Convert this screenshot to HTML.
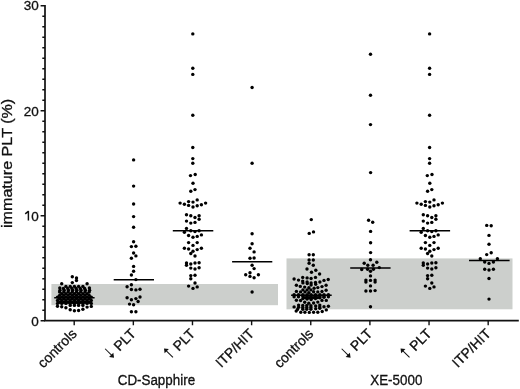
<!DOCTYPE html>
<html><head><meta charset="utf-8"><style>
html,body{margin:0;padding:0;background:#fff;}
svg{display:block;will-change:transform;}
text{font-family:"Liberation Sans",sans-serif;fill:#111;stroke:#111;stroke-width:0.3px;}
.t{font-size:13.5px;}
.xl{font-size:13.9px;}
.ti{font-size:14.8px;}
.g{font-size:13.4px;}
</style></head><body>
<svg width="520" height="389" viewBox="0 0 520 389">
<rect x="51.4" y="284.0" width="226.6" height="21.2" fill="#cccfcc"/>
<rect x="286.5" y="258.4" width="226.0" height="50.9" fill="#cccfcc"/>
<path d="M45.0 5.0 V320.7 H518.8" fill="none" stroke="#111" stroke-width="1.7"/>
<path d="M40.6 320.70H45.0 M42.3 310.20H45.0 M42.3 299.70H45.0 M42.3 289.20H45.0 M42.3 278.70H45.0 M42.3 268.20H45.0 M42.3 257.70H45.0 M42.3 247.20H45.0 M42.3 236.70H45.0 M42.3 226.20H45.0 M40.6 215.70H45.0 M42.3 205.20H45.0 M42.3 194.70H45.0 M42.3 184.20H45.0 M42.3 173.70H45.0 M42.3 163.20H45.0 M42.3 152.70H45.0 M42.3 142.20H45.0 M42.3 131.70H45.0 M42.3 121.20H45.0 M40.6 110.70H45.0 M42.3 100.20H45.0 M42.3 89.70H45.0 M42.3 79.20H45.0 M42.3 68.70H45.0 M42.3 58.20H45.0 M42.3 47.70H45.0 M42.3 37.20H45.0 M42.3 26.70H45.0 M42.3 16.20H45.0 M40.6 5.70H45.0 M74.20 320.7V325.3 M133.34 320.7V325.3 M192.48 320.7V325.3 M251.62 320.7V325.3 M310.76 320.7V325.3 M369.90 320.7V325.3 M429.04 320.7V325.3 M488.18 320.7V325.3" stroke="#111" stroke-width="1.4" fill="none"/>
<text x="38.8" y="325.75" text-anchor="end" class="t">0</text>
<text x="38.8" y="220.55" text-anchor="end" class="t">0</text>
<path d="M28.4 210.90V220.55M28.6 211.10L25.2 213.90" stroke="#111" stroke-width="1.45" fill="none"/>
<text x="38.8" y="115.55" text-anchor="end" class="t">20</text>
<text x="38.8" y="10.25" text-anchor="end" class="t">30</text>
<text transform="translate(12.0,163.4) rotate(-90) scale(1.09,1)" text-anchor="middle" class="ti">immature PLT (%)</text>
<g transform="translate(74.20,331.0) rotate(-45)"><text x="0.0" y="4.9" text-anchor="end" class="xl">controls</text></g>
<g transform="translate(133.34,331.0) rotate(-45)"><text x="0.0" y="4.9" text-anchor="end" class="xl">PLT</text><path d="M-32.5 -7.4V2" stroke="#111" stroke-width="1" fill="none"/><path d="M-35.5 1.2L-32.5 5.2L-29.5 1.2Z" fill="#111"/></g>
<g transform="translate(192.48,331.0) rotate(-45)"><text x="0.0" y="4.9" text-anchor="end" class="xl">PLT</text><path d="M-32.5 4.9V-4.5" stroke="#111" stroke-width="1" fill="none"/><path d="M-35.5 -3.9L-32.5 -7.8L-29.5 -3.9Z" fill="#111"/></g>
<g transform="translate(251.62,331.0) rotate(-45)"><text x="0.0" y="4.9" text-anchor="end" class="xl">ITP/HIT</text></g>
<g transform="translate(310.76,331.0) rotate(-45)"><text x="0.0" y="4.9" text-anchor="end" class="xl">controls</text></g>
<g transform="translate(369.90,331.0) rotate(-45)"><text x="0.0" y="4.9" text-anchor="end" class="xl">PLT</text><path d="M-32.5 -7.4V2" stroke="#111" stroke-width="1" fill="none"/><path d="M-35.5 1.2L-32.5 5.2L-29.5 1.2Z" fill="#111"/></g>
<g transform="translate(429.04,331.0) rotate(-45)"><text x="0.0" y="4.9" text-anchor="end" class="xl">PLT</text><path d="M-32.5 4.9V-4.5" stroke="#111" stroke-width="1" fill="none"/><path d="M-35.5 -3.9L-32.5 -7.8L-29.5 -3.9Z" fill="#111"/></g>
<g transform="translate(488.18,331.0) rotate(-45)"><text x="0.0" y="4.9" text-anchor="end" class="xl">ITP/HIT</text></g>
<text transform="translate(156.4,385.3) scale(1,1.065)" text-anchor="middle" class="g">CD-Sapphire</text>
<text transform="translate(396.3,385.3) scale(1,1.065)" text-anchor="middle" class="g">XE-5000</text>
<path d="M54.20 297.70H94.60 M113.70 279.80H154.00 M172.80 230.70H213.30 M232.10 261.70H272.30 M291.10 295.20H331.70 M350.20 268.00H390.60 M409.60 230.70H450.10 M469.00 260.50H509.60" stroke="#000" stroke-width="1.6" fill="none"/>
<g fill="#000"><circle cx="72.3" cy="276.7" r="1.7"/><circle cx="76.5" cy="277.9" r="1.7"/><circle cx="76.5" cy="280.5" r="1.7"/><circle cx="72.3" cy="282.6" r="1.7"/><circle cx="61.7" cy="283.7" r="1.7"/><circle cx="87.1" cy="283.7" r="1.7"/><circle cx="65.9" cy="286.4" r="1.7"/><circle cx="70.2" cy="286.4" r="1.7"/><circle cx="74.4" cy="286.4" r="1.7"/><circle cx="78.6" cy="286.4" r="1.7"/><circle cx="82.9" cy="286.4" r="1.7"/><circle cx="59.8" cy="287.9" r="1.7"/><circle cx="89.4" cy="287.9" r="1.7"/><circle cx="63.4" cy="288.5" r="1.7"/><circle cx="67.7" cy="288.5" r="1.7"/><circle cx="71.9" cy="288.5" r="1.7"/><circle cx="76.1" cy="288.5" r="1.7"/><circle cx="80.3" cy="288.5" r="1.7"/><circle cx="84.6" cy="288.5" r="1.7"/><circle cx="60.0" cy="290.3" r="1.7"/><circle cx="64.2" cy="290.3" r="1.7"/><circle cx="68.5" cy="290.3" r="1.7"/><circle cx="72.7" cy="290.3" r="1.7"/><circle cx="76.9" cy="290.3" r="1.7"/><circle cx="81.1" cy="290.3" r="1.7"/><circle cx="85.4" cy="290.3" r="1.7"/><circle cx="89.6" cy="290.3" r="1.7"/><circle cx="59.6" cy="292.0" r="1.7"/><circle cx="63.8" cy="292.0" r="1.7"/><circle cx="68.1" cy="292.0" r="1.7"/><circle cx="72.3" cy="292.0" r="1.7"/><circle cx="76.5" cy="292.0" r="1.7"/><circle cx="80.7" cy="292.0" r="1.7"/><circle cx="85.0" cy="292.0" r="1.7"/><circle cx="89.2" cy="292.0" r="1.7"/><circle cx="61.7" cy="293.7" r="1.7"/><circle cx="65.9" cy="293.7" r="1.7"/><circle cx="70.2" cy="293.7" r="1.7"/><circle cx="74.4" cy="293.7" r="1.7"/><circle cx="78.6" cy="293.7" r="1.7"/><circle cx="82.9" cy="293.7" r="1.7"/><circle cx="87.1" cy="293.7" r="1.7"/><circle cx="59.6" cy="295.4" r="1.7"/><circle cx="63.8" cy="295.4" r="1.7"/><circle cx="68.1" cy="295.4" r="1.7"/><circle cx="72.3" cy="295.4" r="1.7"/><circle cx="76.5" cy="295.4" r="1.7"/><circle cx="80.7" cy="295.4" r="1.7"/><circle cx="85.0" cy="295.4" r="1.7"/><circle cx="89.2" cy="295.4" r="1.7"/><circle cx="57.5" cy="297.1" r="1.7"/><circle cx="61.7" cy="297.1" r="1.7"/><circle cx="65.9" cy="297.1" r="1.7"/><circle cx="70.2" cy="297.1" r="1.7"/><circle cx="74.4" cy="297.1" r="1.7"/><circle cx="78.6" cy="297.1" r="1.7"/><circle cx="82.9" cy="297.1" r="1.7"/><circle cx="87.1" cy="297.1" r="1.7"/><circle cx="91.3" cy="297.1" r="1.7"/><circle cx="59.6" cy="298.8" r="1.7"/><circle cx="63.8" cy="298.8" r="1.7"/><circle cx="68.1" cy="298.8" r="1.7"/><circle cx="72.3" cy="298.8" r="1.7"/><circle cx="76.5" cy="298.8" r="1.7"/><circle cx="80.7" cy="298.8" r="1.7"/><circle cx="85.0" cy="298.8" r="1.7"/><circle cx="89.2" cy="298.8" r="1.7"/><circle cx="57.5" cy="300.5" r="1.7"/><circle cx="61.7" cy="300.5" r="1.7"/><circle cx="65.9" cy="300.5" r="1.7"/><circle cx="70.2" cy="300.5" r="1.7"/><circle cx="74.4" cy="300.5" r="1.7"/><circle cx="78.6" cy="300.5" r="1.7"/><circle cx="82.9" cy="300.5" r="1.7"/><circle cx="87.1" cy="300.5" r="1.7"/><circle cx="91.3" cy="300.5" r="1.7"/><circle cx="59.6" cy="302.2" r="1.7"/><circle cx="63.8" cy="302.2" r="1.7"/><circle cx="68.1" cy="302.2" r="1.7"/><circle cx="72.3" cy="302.2" r="1.7"/><circle cx="76.5" cy="302.2" r="1.7"/><circle cx="80.7" cy="302.2" r="1.7"/><circle cx="85.0" cy="302.2" r="1.7"/><circle cx="89.2" cy="302.2" r="1.7"/><circle cx="57.5" cy="303.4" r="1.7"/><circle cx="61.7" cy="303.4" r="1.7"/><circle cx="65.9" cy="303.4" r="1.7"/><circle cx="70.2" cy="303.4" r="1.7"/><circle cx="74.4" cy="303.4" r="1.7"/><circle cx="78.6" cy="303.4" r="1.7"/><circle cx="82.9" cy="303.4" r="1.7"/><circle cx="87.1" cy="303.4" r="1.7"/><circle cx="91.3" cy="303.4" r="1.7"/><circle cx="57.5" cy="306.3" r="1.7"/><circle cx="61.7" cy="306.8" r="1.7"/><circle cx="65.9" cy="307.8" r="1.7"/><circle cx="70.2" cy="305.4" r="1.7"/><circle cx="70.2" cy="309.8" r="1.7"/><circle cx="74.4" cy="305.4" r="1.7"/><circle cx="74.4" cy="310.7" r="1.7"/><circle cx="78.6" cy="305.4" r="1.7"/><circle cx="78.6" cy="310.5" r="1.7"/><circle cx="82.9" cy="305.4" r="1.7"/><circle cx="82.9" cy="309.3" r="1.7"/><circle cx="87.1" cy="307.1" r="1.7"/><circle cx="91.3" cy="306.4" r="1.7"/><circle cx="133.6" cy="159.9" r="1.7"/><circle cx="133.6" cy="186.1" r="1.7"/><circle cx="133.6" cy="204.0" r="1.7"/><circle cx="133.6" cy="216.6" r="1.7"/><circle cx="133.6" cy="227.3" r="1.7"/><circle cx="133.6" cy="241.7" r="1.7"/><circle cx="131.4" cy="246.6" r="1.7"/><circle cx="135.9" cy="246.2" r="1.7"/><circle cx="133.6" cy="253.0" r="1.7"/><circle cx="135.9" cy="255.9" r="1.7"/><circle cx="131.4" cy="258.2" r="1.7"/><circle cx="133.6" cy="266.4" r="1.7"/><circle cx="133.6" cy="271.2" r="1.7"/><circle cx="131.4" cy="275.0" r="1.7"/><circle cx="135.9" cy="279.6" r="1.7"/><circle cx="131.4" cy="284.8" r="1.7"/><circle cx="127.1" cy="286.7" r="1.7"/><circle cx="131.4" cy="289.5" r="1.7"/><circle cx="135.9" cy="289.9" r="1.7"/><circle cx="140.0" cy="289.3" r="1.7"/><circle cx="127.1" cy="297.7" r="1.7"/><circle cx="131.4" cy="299.8" r="1.7"/><circle cx="135.9" cy="298.6" r="1.7"/><circle cx="140.0" cy="297.0" r="1.7"/><circle cx="138.1" cy="301.5" r="1.7"/><circle cx="129.5" cy="304.1" r="1.7"/><circle cx="133.6" cy="304.7" r="1.7"/><circle cx="131.4" cy="311.8" r="1.7"/><circle cx="135.9" cy="311.8" r="1.7"/><circle cx="192.8" cy="33.9" r="1.7"/><circle cx="192.8" cy="68.2" r="1.7"/><circle cx="192.8" cy="74.4" r="1.7"/><circle cx="192.8" cy="115.2" r="1.7"/><circle cx="192.8" cy="147.5" r="1.7"/><circle cx="192.8" cy="158.6" r="1.7"/><circle cx="192.8" cy="163.2" r="1.7"/><circle cx="190.5" cy="175.6" r="1.7"/><circle cx="195.2" cy="174.5" r="1.7"/><circle cx="193.0" cy="183.2" r="1.7"/><circle cx="190.8" cy="191.3" r="1.7"/><circle cx="195.0" cy="189.6" r="1.7"/><circle cx="197.2" cy="199.9" r="1.7"/><circle cx="188.6" cy="201.6" r="1.7"/><circle cx="193.0" cy="202.1" r="1.7"/><circle cx="180.1" cy="203.1" r="1.7"/><circle cx="184.4" cy="204.2" r="1.7"/><circle cx="205.6" cy="203.1" r="1.7"/><circle cx="201.4" cy="204.7" r="1.7"/><circle cx="188.6" cy="205.4" r="1.7"/><circle cx="197.2" cy="205.7" r="1.7"/><circle cx="193.0" cy="207.0" r="1.7"/><circle cx="186.5" cy="214.7" r="1.7"/><circle cx="190.8" cy="215.7" r="1.7"/><circle cx="199.1" cy="215.7" r="1.7"/><circle cx="195.0" cy="217.5" r="1.7"/><circle cx="199.1" cy="219.2" r="1.7"/><circle cx="186.5" cy="221.1" r="1.7"/><circle cx="190.8" cy="223.1" r="1.7"/><circle cx="195.0" cy="222.4" r="1.7"/><circle cx="186.5" cy="228.4" r="1.7"/><circle cx="184.4" cy="232.3" r="1.7"/><circle cx="190.8" cy="230.7" r="1.7"/><circle cx="195.0" cy="231.6" r="1.7"/><circle cx="199.1" cy="230.7" r="1.7"/><circle cx="188.6" cy="235.5" r="1.7"/><circle cx="193.0" cy="237.2" r="1.7"/><circle cx="197.2" cy="236.4" r="1.7"/><circle cx="201.4" cy="234.9" r="1.7"/><circle cx="188.6" cy="242.6" r="1.7"/><circle cx="197.2" cy="242.6" r="1.7"/><circle cx="193.0" cy="245.4" r="1.7"/><circle cx="184.4" cy="248.3" r="1.7"/><circle cx="188.6" cy="249.0" r="1.7"/><circle cx="197.2" cy="249.6" r="1.7"/><circle cx="201.4" cy="248.3" r="1.7"/><circle cx="193.0" cy="251.3" r="1.7"/><circle cx="190.8" cy="253.5" r="1.7"/><circle cx="195.0" cy="256.0" r="1.7"/><circle cx="186.5" cy="262.9" r="1.7"/><circle cx="186.5" cy="265.3" r="1.7"/><circle cx="190.8" cy="264.0" r="1.7"/><circle cx="195.0" cy="263.0" r="1.7"/><circle cx="199.1" cy="262.8" r="1.7"/><circle cx="190.8" cy="268.1" r="1.7"/><circle cx="195.0" cy="269.0" r="1.7"/><circle cx="199.1" cy="267.8" r="1.7"/><circle cx="190.8" cy="275.6" r="1.7"/><circle cx="190.8" cy="278.8" r="1.7"/><circle cx="195.0" cy="275.3" r="1.7"/><circle cx="195.0" cy="283.0" r="1.7"/><circle cx="188.6" cy="286.1" r="1.7"/><circle cx="193.0" cy="288.4" r="1.7"/><circle cx="197.2" cy="286.9" r="1.7"/><circle cx="252.1" cy="87.5" r="1.7"/><circle cx="252.1" cy="163.3" r="1.7"/><circle cx="252.1" cy="233.8" r="1.7"/><circle cx="252.1" cy="243.7" r="1.7"/><circle cx="250.0" cy="248.3" r="1.7"/><circle cx="254.1" cy="251.9" r="1.7"/><circle cx="250.0" cy="258.2" r="1.7"/><circle cx="254.1" cy="258.0" r="1.7"/><circle cx="252.1" cy="265.3" r="1.7"/><circle cx="254.1" cy="268.6" r="1.7"/><circle cx="250.0" cy="272.7" r="1.7"/><circle cx="245.7" cy="274.8" r="1.7"/><circle cx="250.0" cy="276.4" r="1.7"/><circle cx="258.4" cy="274.8" r="1.7"/><circle cx="254.1" cy="277.7" r="1.7"/><circle cx="252.1" cy="292.0" r="1.7"/><circle cx="311.3" cy="219.6" r="1.7"/><circle cx="309.2" cy="233.4" r="1.7"/><circle cx="313.5" cy="231.9" r="1.7"/><circle cx="309.1" cy="254.8" r="1.7"/><circle cx="313.3" cy="254.8" r="1.7"/><circle cx="309.1" cy="260.0" r="1.7"/><circle cx="313.3" cy="260.0" r="1.7"/><circle cx="309.1" cy="263.2" r="1.7"/><circle cx="313.3" cy="265.3" r="1.7"/><circle cx="307.0" cy="269.0" r="1.7"/><circle cx="311.5" cy="272.2" r="1.7"/><circle cx="315.8" cy="270.3" r="1.7"/><circle cx="319.6" cy="274.0" r="1.7"/><circle cx="302.7" cy="277.4" r="1.7"/><circle cx="307.1" cy="277.9" r="1.7"/><circle cx="311.1" cy="278.5" r="1.7"/><circle cx="315.5" cy="277.4" r="1.7"/><circle cx="294.1" cy="279.0" r="1.7"/><circle cx="298.5" cy="280.1" r="1.7"/><circle cx="324.0" cy="280.4" r="1.7"/><circle cx="328.2" cy="279.5" r="1.7"/><circle cx="302.7" cy="281.1" r="1.7"/><circle cx="302.9" cy="282.9" r="1.7"/><circle cx="307.1" cy="282.0" r="1.7"/><circle cx="307.3" cy="283.6" r="1.7"/><circle cx="311.1" cy="282.9" r="1.7"/><circle cx="311.1" cy="285.0" r="1.7"/><circle cx="315.5" cy="282.5" r="1.7"/><circle cx="315.7" cy="284.3" r="1.7"/><circle cx="319.9" cy="282.0" r="1.7"/><circle cx="296.4" cy="285.3" r="1.7"/><circle cx="300.3" cy="286.4" r="1.7"/><circle cx="304.7" cy="287.1" r="1.7"/><circle cx="308.9" cy="287.8" r="1.7"/><circle cx="314.1" cy="288.3" r="1.7"/><circle cx="317.8" cy="287.6" r="1.7"/><circle cx="322.0" cy="286.6" r="1.7"/><circle cx="326.1" cy="285.3" r="1.7"/><circle cx="302.9" cy="289.9" r="1.7"/><circle cx="307.1" cy="289.9" r="1.7"/><circle cx="310.9" cy="289.9" r="1.7"/><circle cx="296.4" cy="291.4" r="1.7"/><circle cx="300.6" cy="291.9" r="1.7"/><circle cx="305.0" cy="291.9" r="1.7"/><circle cx="308.9" cy="292.6" r="1.7"/><circle cx="313.6" cy="291.7" r="1.7"/><circle cx="317.8" cy="291.9" r="1.7"/><circle cx="322.0" cy="291.5" r="1.7"/><circle cx="326.1" cy="290.3" r="1.7"/><circle cx="296.4" cy="300.3" r="1.7"/><circle cx="300.6" cy="300.5" r="1.7"/><circle cx="322.0" cy="300.4" r="1.7"/><circle cx="326.3" cy="300.4" r="1.7"/><circle cx="304.7" cy="302.3" r="1.7"/><circle cx="308.8" cy="303.2" r="1.7"/><circle cx="313.6" cy="303.0" r="1.7"/><circle cx="317.8" cy="302.1" r="1.7"/><circle cx="294.1" cy="306.9" r="1.7"/><circle cx="324.0" cy="306.7" r="1.7"/><circle cx="328.4" cy="306.2" r="1.7"/><circle cx="326.3" cy="309.9" r="1.7"/><circle cx="297.5" cy="309.4" r="1.7"/><circle cx="296.2" cy="311.1" r="1.7"/><circle cx="300.8" cy="312.2" r="1.7"/><circle cx="304.9" cy="312.2" r="1.7"/><circle cx="309.3" cy="312.4" r="1.7"/><circle cx="313.6" cy="312.2" r="1.7"/><circle cx="317.8" cy="312.2" r="1.7"/><circle cx="322.2" cy="311.5" r="1.7"/><circle cx="294.1" cy="294.6" r="1.7"/><circle cx="294.1" cy="296.7" r="1.7"/><circle cx="298.5" cy="294.6" r="1.7"/><circle cx="298.5" cy="296.8" r="1.7"/><circle cx="302.9" cy="294.6" r="1.7"/><circle cx="302.9" cy="296.5" r="1.7"/><circle cx="302.9" cy="298.6" r="1.7"/><circle cx="307.1" cy="294.6" r="1.7"/><circle cx="307.1" cy="296.5" r="1.7"/><circle cx="307.1" cy="298.4" r="1.7"/><circle cx="307.1" cy="299.0" r="1.7"/><circle cx="311.1" cy="294.6" r="1.7"/><circle cx="311.1" cy="296.5" r="1.7"/><circle cx="311.1" cy="298.4" r="1.7"/><circle cx="311.1" cy="299.6" r="1.7"/><circle cx="315.5" cy="294.6" r="1.7"/><circle cx="315.5" cy="296.5" r="1.7"/><circle cx="315.5" cy="298.6" r="1.7"/><circle cx="319.9" cy="294.6" r="1.7"/><circle cx="319.9" cy="296.5" r="1.7"/><circle cx="319.9" cy="297.7" r="1.7"/><circle cx="324.0" cy="294.6" r="1.7"/><circle cx="324.0" cy="296.5" r="1.7"/><circle cx="324.0" cy="297.3" r="1.7"/><circle cx="328.4" cy="294.6" r="1.7"/><circle cx="328.4" cy="296.7" r="1.7"/><circle cx="298.6" cy="305.1" r="1.7"/><circle cx="298.6" cy="307.3" r="1.7"/><circle cx="302.8" cy="305.5" r="1.7"/><circle cx="302.8" cy="307.4" r="1.7"/><circle cx="302.8" cy="309.2" r="1.7"/><circle cx="306.8" cy="305.5" r="1.7"/><circle cx="306.8" cy="307.4" r="1.7"/><circle cx="306.8" cy="309.2" r="1.7"/><circle cx="310.9" cy="305.7" r="1.7"/><circle cx="310.9" cy="307.5" r="1.7"/><circle cx="310.9" cy="309.2" r="1.7"/><circle cx="315.7" cy="306.0" r="1.7"/><circle cx="315.7" cy="308.8" r="1.7"/><circle cx="319.8" cy="305.1" r="1.7"/><circle cx="319.8" cy="307.0" r="1.7"/><circle cx="319.8" cy="308.3" r="1.7"/><circle cx="305.0" cy="297.6" r="1.7"/><circle cx="309.2" cy="297.6" r="1.7"/><circle cx="313.4" cy="297.6" r="1.7"/><circle cx="317.7" cy="297.6" r="1.7"/><circle cx="370.5" cy="54.2" r="1.7"/><circle cx="370.5" cy="95.3" r="1.7"/><circle cx="370.5" cy="124.6" r="1.7"/><circle cx="370.6" cy="172.6" r="1.7"/><circle cx="368.6" cy="220.2" r="1.7"/><circle cx="372.7" cy="222.3" r="1.7"/><circle cx="370.6" cy="231.4" r="1.7"/><circle cx="370.6" cy="242.7" r="1.7"/><circle cx="370.6" cy="252.6" r="1.7"/><circle cx="370.5" cy="259.7" r="1.7"/><circle cx="364.2" cy="263.2" r="1.7"/><circle cx="376.8" cy="262.2" r="1.7"/><circle cx="367.8" cy="265.3" r="1.7"/><circle cx="373.1" cy="265.3" r="1.7"/><circle cx="361.7" cy="269.5" r="1.7"/><circle cx="367.6" cy="269.2" r="1.7"/><circle cx="373.4" cy="269.2" r="1.7"/><circle cx="379.3" cy="267.6" r="1.7"/><circle cx="370.5" cy="271.2" r="1.7"/><circle cx="370.5" cy="275.9" r="1.7"/><circle cx="365.9" cy="280.1" r="1.7"/><circle cx="365.9" cy="282.0" r="1.7"/><circle cx="370.5" cy="280.4" r="1.7"/><circle cx="375.1" cy="280.1" r="1.7"/><circle cx="375.1" cy="282.1" r="1.7"/><circle cx="370.5" cy="285.9" r="1.7"/><circle cx="365.9" cy="291.0" r="1.7"/><circle cx="370.5" cy="291.0" r="1.7"/><circle cx="375.1" cy="290.6" r="1.7"/><circle cx="370.5" cy="306.8" r="1.7"/><circle cx="429.6" cy="33.9" r="1.7"/><circle cx="429.6" cy="68.2" r="1.7"/><circle cx="429.6" cy="74.4" r="1.7"/><circle cx="429.6" cy="115.2" r="1.7"/><circle cx="429.6" cy="147.5" r="1.7"/><circle cx="429.6" cy="158.6" r="1.7"/><circle cx="429.6" cy="163.2" r="1.7"/><circle cx="427.3" cy="175.6" r="1.7"/><circle cx="432.0" cy="174.5" r="1.7"/><circle cx="429.8" cy="183.2" r="1.7"/><circle cx="427.6" cy="191.3" r="1.7"/><circle cx="431.8" cy="189.6" r="1.7"/><circle cx="434.0" cy="199.9" r="1.7"/><circle cx="425.4" cy="201.6" r="1.7"/><circle cx="429.8" cy="202.1" r="1.7"/><circle cx="416.9" cy="203.1" r="1.7"/><circle cx="421.2" cy="204.2" r="1.7"/><circle cx="442.4" cy="203.1" r="1.7"/><circle cx="438.2" cy="204.7" r="1.7"/><circle cx="425.4" cy="205.4" r="1.7"/><circle cx="434.0" cy="205.7" r="1.7"/><circle cx="429.8" cy="207.0" r="1.7"/><circle cx="423.3" cy="214.7" r="1.7"/><circle cx="427.6" cy="215.7" r="1.7"/><circle cx="435.9" cy="215.7" r="1.7"/><circle cx="431.8" cy="217.5" r="1.7"/><circle cx="435.9" cy="219.2" r="1.7"/><circle cx="423.3" cy="221.1" r="1.7"/><circle cx="427.6" cy="223.1" r="1.7"/><circle cx="431.8" cy="222.4" r="1.7"/><circle cx="423.3" cy="228.4" r="1.7"/><circle cx="421.2" cy="232.3" r="1.7"/><circle cx="427.6" cy="230.7" r="1.7"/><circle cx="431.8" cy="231.6" r="1.7"/><circle cx="435.9" cy="230.7" r="1.7"/><circle cx="425.4" cy="235.5" r="1.7"/><circle cx="429.8" cy="237.2" r="1.7"/><circle cx="434.0" cy="236.4" r="1.7"/><circle cx="438.2" cy="234.9" r="1.7"/><circle cx="425.4" cy="242.6" r="1.7"/><circle cx="434.0" cy="242.6" r="1.7"/><circle cx="429.8" cy="245.4" r="1.7"/><circle cx="421.2" cy="248.3" r="1.7"/><circle cx="425.4" cy="249.0" r="1.7"/><circle cx="434.0" cy="249.6" r="1.7"/><circle cx="438.2" cy="248.3" r="1.7"/><circle cx="429.8" cy="251.3" r="1.7"/><circle cx="427.6" cy="253.5" r="1.7"/><circle cx="431.8" cy="256.0" r="1.7"/><circle cx="423.3" cy="262.9" r="1.7"/><circle cx="423.3" cy="265.3" r="1.7"/><circle cx="427.6" cy="264.0" r="1.7"/><circle cx="431.8" cy="263.0" r="1.7"/><circle cx="435.9" cy="262.8" r="1.7"/><circle cx="427.6" cy="268.1" r="1.7"/><circle cx="431.8" cy="269.0" r="1.7"/><circle cx="435.9" cy="267.8" r="1.7"/><circle cx="427.6" cy="275.6" r="1.7"/><circle cx="427.6" cy="278.8" r="1.7"/><circle cx="431.8" cy="275.3" r="1.7"/><circle cx="431.8" cy="283.0" r="1.7"/><circle cx="425.4" cy="286.1" r="1.7"/><circle cx="429.8" cy="288.4" r="1.7"/><circle cx="434.0" cy="286.9" r="1.7"/><circle cx="486.7" cy="225.4" r="1.7"/><circle cx="491.2" cy="225.8" r="1.7"/><circle cx="489.0" cy="235.4" r="1.7"/><circle cx="489.0" cy="244.2" r="1.7"/><circle cx="491.2" cy="252.7" r="1.7"/><circle cx="486.7" cy="254.6" r="1.7"/><circle cx="480.3" cy="258.8" r="1.7"/><circle cx="497.4" cy="258.8" r="1.7"/><circle cx="484.7" cy="262.0" r="1.7"/><circle cx="489.0" cy="263.4" r="1.7"/><circle cx="493.4" cy="262.0" r="1.7"/><circle cx="484.7" cy="269.2" r="1.7"/><circle cx="489.0" cy="270.0" r="1.7"/><circle cx="493.4" cy="269.2" r="1.7"/><circle cx="489.0" cy="278.5" r="1.7"/><circle cx="489.0" cy="299.1" r="1.7"/></g>
</svg>
</body></html>
